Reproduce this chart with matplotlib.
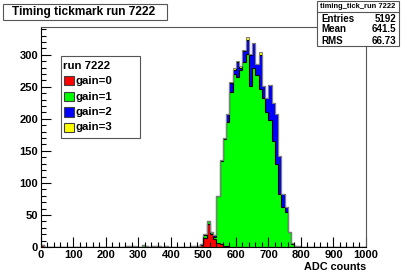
import numpy as np
import matplotlib
matplotlib.use("Agg")
import matplotlib.pyplot as plt
from matplotlib.patches import Rectangle
from matplotlib.ticker import MultipleLocator

#========= Data ==================================
title = "Timing tickmark run 7222"
stat_name = "timing_tick_run 7222"
stat_rows = [("Entries", "5192"), ("Mean", "641.5"), ("RMS", "66.73")]
legend_head = "run 7222"
labels = ["gain=0", "gain=1", "gain=2", "gain=3"]
colors = ["#ff0000", "#00ff00", "#0000ff", "#ffff00"]

# lower edge of the 10-count bins that have entries
bin_lo = [0, 260, 270, 280, 290, 310, 320, 340, 350, 360, 380, 460, 470,
          480, 490, 500, 510, 520, 530, 540, 550, 560, 570, 580, 590,
          600, 610, 620, 630, 640, 650, 660, 670, 680, 690, 700, 710,
          720, 730, 740, 750, 760, 770, 780, 790]
gain0 = [3, 0, 0, 0, 0, 0, 0, 0, 0, 0, 0, 0, 0,
         1, 3, 14, 36, 20, 12, 7, 4, 2, 1, 0, 0,
         0, 0, 0, 0, 0, 0, 0, 0, 0, 0, 0, 0,
         0, 0, 0, 0, 0, 0, 0, 0]
gain1 = [0, 1, 1, 1, 0, 3, 1, 2, 2, 1, 1, 1, 1,
         1, 2, 5, 4, 3, 4, 73, 130, 166, 194, 242, 270,
         266, 276, 288, 301, 252, 280, 268, 246, 232, 210, 198, 165,
         130, 82, 63, 54, 24, 5, 1, 0]
gain2 = [0, 0, 0, 0, 0, 0, 0, 0, 0, 0, 0, 0, 0,
         0, 0, 1, 0, 0, 2, 0, 1, 2, 13, 14, 7,
         23, 3, 18, 22, 48, 38, 17, 54, 19, 23, 55, 60,
         77, 60, 19, 9, 0, 1, 1, 1]
gain3 = [0, 0, 0, 0, 1, 0, 0, 0, 0, 0, 0, 0, 0,
         0, 0, 0, 0, 0, 0, 0, 0, 0, 0, 1, 3,
         2, 3, 1, 4, 1, 1, 1, 5, 0, 0, 0, 0,
         0, 0, 0, 0, 0, 0, 0, 0]

#========= Histogram setup ===========
edges = np.arange(0, 1001, 10)
idx = np.array(bin_lo) // 10
hists = []
for g in (gain0, gain1, gain2, gain3):
    h = np.zeros(len(edges) - 1)
    h[idx] = g
    hists.append(h)
cum = np.cumsum(hists, axis=0)

plt.rcParams['font.family'] = ['Liberation Sans', 'DejaVu Sans']
plt.rcParams['font.weight'] = 'bold'

W, H = 407.0, 276.0
def fx(px):
    return px / W
def fy(py):
    return 1 - py / H

fig = plt.figure(figsize=(4.07, 2.76), dpi=100)
ax = fig.add_axes([fx(40.7), fy(247), (366-40.7)/W, (247-27)/H])

base = np.zeros(len(edges) - 1)
line_cols = ["#000000", "#000000", "#000000", "#808080"]
for h, c, top in zip(hists, colors, cum):
    ax.stairs(top, edges, baseline=base, fill=True, color=c, lw=0)
    base = top
for top, lc in zip(cum, line_cols):
    ax.stairs(top, edges, color=lc, lw=0.8)

ax.set_xlim(0, 1000)
ax.set_ylim(0, 1.05 * cum[-1].max())

ax.xaxis.set_major_locator(MultipleLocator(100))
ax.xaxis.set_minor_locator(MultipleLocator(20))
ax.yaxis.set_major_locator(MultipleLocator(50))
ax.yaxis.set_minor_locator(MultipleLocator(10))
ax.tick_params(which='both', direction='in', top=False, right=False,
               labelsize=8, pad=2, color='black', width=0.8)
ax.tick_params(which='major', length=7)
ax.tick_params(which='minor', length=3.5)
for s in ax.spines.values():
    s.set_linewidth(0.8)
    s.set_color('#555555')
for s in ('left', 'bottom'):
    ax.spines[s].set_color('black')
for lab in ax.get_xticklabels() + ax.get_yticklabels():
    lab.set_fontweight('bold')

fig.text(fx(366), fy(267), "ADC counts", ha='right', va='center',
         fontsize=7.8, fontweight='bold')

# title box
fig.patches.append(Rectangle((fx(3), fy(20)), 164/W, 16/H, transform=fig.transFigure,
                             fc='white', ec='#555555', lw=0.8))
fig.text(fx(84), fy(12), title, ha='center', va='center', fontsize=8.6,
         fontweight='bold')

# stat box
sx0, sx1, sy0, sy1 = fx(317), fx(399), fy(46), fy(1)
fig.patches.append(Rectangle((sx0, sy0), sx1-sx0, sy1-sy0, transform=fig.transFigure,
                             fc='white', ec='#555555', lw=0.8))
fig.lines.append(plt.Line2D([sx0, sx1], [fy(12), fy(12)], transform=fig.transFigure,
                            color='#555555', lw=0.8))
fig.text((sx0+sx1)/2, fy(6.5), stat_name, ha='center', va='center',
         fontsize=5.4, fontweight='bold')
for i, (k, v) in enumerate(stat_rows):
    yy = fy(18.5 + 11*i)
    fig.text(fx(321), yy, k, ha='left', va='center', fontsize=7, fontweight='bold')
    fig.text(fx(396), yy, v, ha='right', va='center', fontsize=7, fontweight='bold')

# legend box
lx0, lx1, ly0, ly1 = fx(61), fx(140), fy(138), fy(56)
fig.patches.append(Rectangle((lx0, ly0), lx1-lx0, ly1-ly0, transform=fig.transFigure,
                             fc='white', ec='#555555', lw=0.8))
fig.text(fx(63), fy(66), legend_head, ha='left', va='center', fontsize=8.2,
         fontweight='bold')
for i, (lab, c) in enumerate(zip(labels, colors)):
    yc = 81 + 15.5*i
    fig.patches.append(Rectangle((fx(64), fy(yc+4.5)), 10/W, 9/H,
                                 transform=fig.transFigure, fc=c, ec='#404040', lw=0.8))
    fig.text(fx(76), fy(yc), lab, ha='left', va='center', fontsize=8.2,
             fontweight='bold')

fig.savefig("out.png", dpi=100)
